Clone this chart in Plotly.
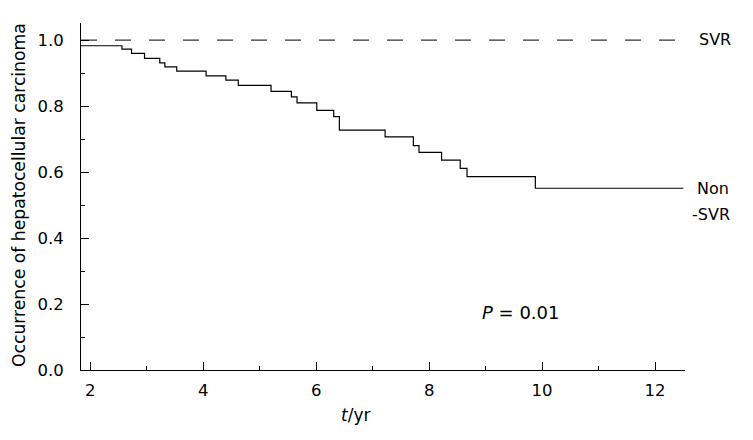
import plotly.graph_objects as go

# Kaplan-Meier step data (Non-SVR)
nonsvr_t = [1.835, 2.56, 2.73, 2.96, 3.23, 3.32, 3.53, 4.05, 4.40, 4.62, 5.20, 5.56, 5.66,
            6.01, 6.31, 6.41, 7.22, 7.72, 7.82, 8.22, 8.55, 8.67, 9.88, 12.50]
nonsvr_s = [0.983, 0.973, 0.960, 0.945, 0.931, 0.919, 0.906, 0.892, 0.879, 0.863, 0.845, 0.828, 0.810,
            0.787, 0.768, 0.727, 0.707, 0.680, 0.660, 0.636, 0.611, 0.586, 0.551, 0.551]
svr_t = [1.835, 12.53]
svr_s = [1.0, 1.0]

x_ticks = [2, 4, 6, 8, 10, 12]
y_ticks = [0.0, 0.2, 0.4, 0.6, 0.8, 1.0]
y_ticklabels = ["0.0", "0.2", "0.4", "0.6", "0.8", "1.0"]

FONT = "DejaVu Sans, Verdana, sans-serif"
OFF = 8  # default page body margin
L, R, T, B = 81 - OFF, 753 - 685 + OFF, 23 - OFF, 440 - 370 + OFF

fig = go.Figure()
fig.add_trace(go.Scatter(x=svr_t, y=svr_s, mode="lines", line=dict(color="#333333", width=1.3, dash="16px,18px"),
                         hoverinfo="skip", showlegend=False))
fig.add_trace(go.Scatter(x=nonsvr_t, y=nonsvr_s, mode="lines", line=dict(color="black", width=1.2, shape="hv"),
                         hoverinfo="skip", showlegend=False))

fig.update_layout(
    width=753, height=440,
    margin=dict(l=L, r=R, t=T, b=B, autoexpand=False),
    paper_bgcolor="white", plot_bgcolor="white",
    font=dict(family=FONT, size=16.5, color="black"),
    xaxis=dict(range=[1.835, 12.53], showgrid=False, zeroline=False, showline=True, linecolor="black", linewidth=1,
               ticks="inside", ticklen=8, tickcolor="black", tickwidth=1, automargin=False,
               tickvals=x_ticks, ticktext=[str(v) for v in x_ticks],
               minor=dict(ticks="inside", ticklen=4, tickcolor="black", tickvals=[3, 5, 7, 9, 11]),
               ticklabelstandoff=5),
    yaxis=dict(range=[0, 1.052], showgrid=False, zeroline=False, showline=True, linecolor="black", linewidth=1,
               ticks="inside", ticklen=8, tickcolor="black", tickwidth=1, automargin=False,
               tickvals=y_ticks, ticktext=y_ticklabels,
               minor=dict(ticks="inside", ticklen=4, tickcolor="black", tickvals=[0.1, 0.3, 0.5, 0.7, 0.9]),
               ticklabelstandoff=13),
    annotations=[
        dict(x=355, y=415, text="<i>t</i>/yr", showarrow=False,
             xanchor="center", yanchor="middle", font=dict(size=17)),
        dict(x=19, y=195, text="Occurrence of hepatocellular carcinoma", showarrow=False,
             textangle=-90, xanchor="center", yanchor="middle", font=dict(size=17.2)),
        dict(x=697, y=40, text="SVR", showarrow=False, xanchor="left", yanchor="middle", font=dict(size=16)),
        dict(x=695, y=188, text="Non", showarrow=False, xanchor="left", yanchor="middle", font=dict(size=16)),
        dict(x=690, y=214, text="-SVR", showarrow=False, xanchor="left", yanchor="middle", font=dict(size=16)),
        dict(x=480, y=312, text="<i>P</i> = 0.01", showarrow=False, xanchor="left",
             yanchor="middle", font=dict(size=18)),
    ],
)

# convert pixel-placed annotations (page px) to paper fractions
pw = 753 - L - R
ph = 440 - T - B
for a in fig.layout.annotations:
    px, py = a.x - OFF, a.y - OFF
    a.xref = "paper"
    a.yref = "paper"
    a.x = (px - L) / pw
    a.y = (440 - B - py) / ph

fig.write_html("out.html")
